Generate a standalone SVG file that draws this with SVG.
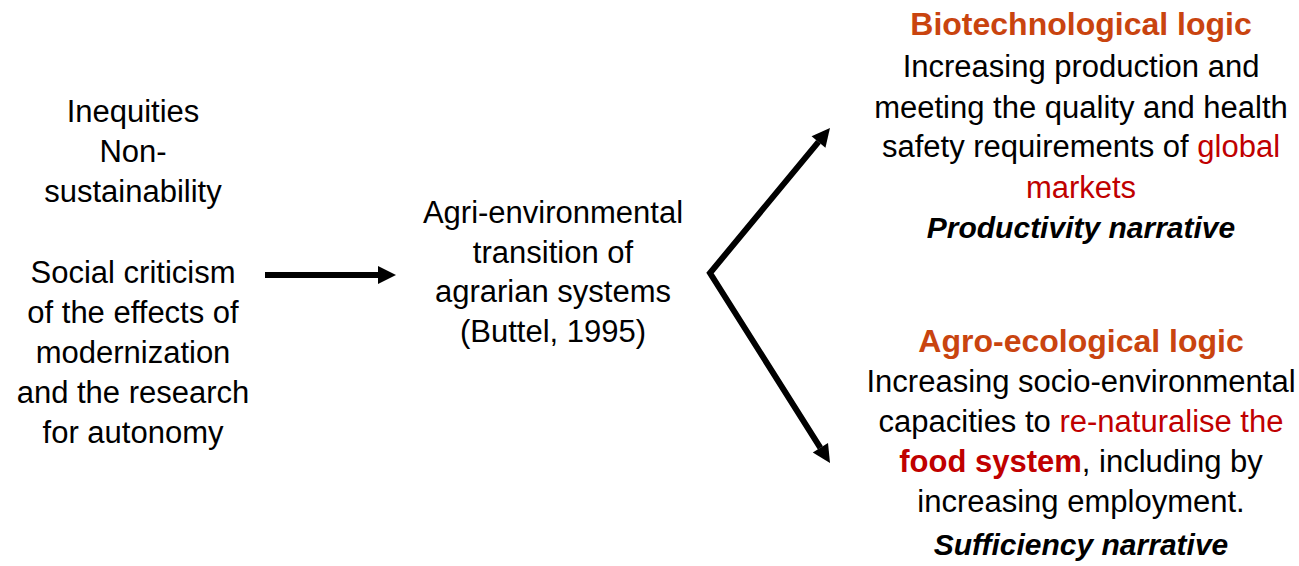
<svg xmlns="http://www.w3.org/2000/svg" width="1299" height="566" viewBox="0 0 1299 566">
  <style>
    text { font-family: "Liberation Sans", Arial, sans-serif; font-size: 31px; fill: #000; text-anchor: middle; }
    .head { font-weight: bold; font-size: 32px; fill: #C9440F; }
    .red { fill: #C00000; }
    .strong { font-weight: bold; }
    .narr { font-weight: bold; font-style: italic; font-size: 30px; }
    .conn { fill: none; stroke: #000; stroke-width: 6; stroke-linejoin: miter; }
  </style>
  <defs>
    <marker id="head" markerUnits="userSpaceOnUse" markerWidth="18" markerHeight="18" refX="0" refY="9" orient="auto-start-reverse" overflow="visible">
      <path d="M0,0 L18,9 L0,18 Z" fill="#000"/>
    </marker>
  </defs>

  <rect width="1299" height="566" fill="#fff"/>

  <!-- drivers of change -->
  <g id="drivers">
    <text x="133" y="122">Inequities</text>
    <text x="133" y="162">Non-</text>
    <text x="133" y="202">sustainability</text>
    <text x="133" y="283">Social criticism</text>
    <text x="133" y="323">of the effects of</text>
    <text x="133" y="363">modernization</text>
    <text x="133" y="403">and the research</text>
    <text x="133" y="443">for autonomy</text>
  </g>

  <!-- central transition -->
  <g id="transition">
    <text x="553" y="223">Agri-environmental</text>
    <text x="553" y="263">transition of</text>
    <text x="553" y="302">agrarian systems</text>
    <text x="553" y="342">(Buttel, 1995)</text>
  </g>

  <!-- biotechnological branch -->
  <g id="biotech">
    <text class="head" x="1081" y="35">Biotechnological logic</text>
    <text x="1081" y="77">Increasing production and</text>
    <text x="1081" y="118">meeting the quality and health</text>
    <text x="1081" y="157">safety requirements of <tspan class="red">global</tspan></text>
    <text class="red" x="1081" y="198">markets</text>
    <text class="narr" x="1081" y="238">Productivity narrative</text>
  </g>

  <!-- agro-ecological branch -->
  <g id="agroeco">
    <text class="head" x="1081" y="352">Agro-ecological logic</text>
    <text x="1081" y="392">Increasing socio-environmental</text>
    <text x="1081" y="432">capacities to <tspan class="red">re-naturalise the</tspan></text>
    <text x="1081" y="472"><tspan class="red strong">food system</tspan>, including by</text>
    <text x="1081" y="512">increasing employment.</text>
    <text class="narr" x="1081" y="555">Sufficiency narrative</text>
  </g>

  <!-- connectors -->
  <g id="connectors">
    <path class="conn" d="M265,275 L378,275" marker-end="url(#head)"/>
    <path class="conn" d="M818.5,141.9 L710,273 L820.4,447.8" marker-start="url(#head)" marker-end="url(#head)"/>
  </g>
</svg>
